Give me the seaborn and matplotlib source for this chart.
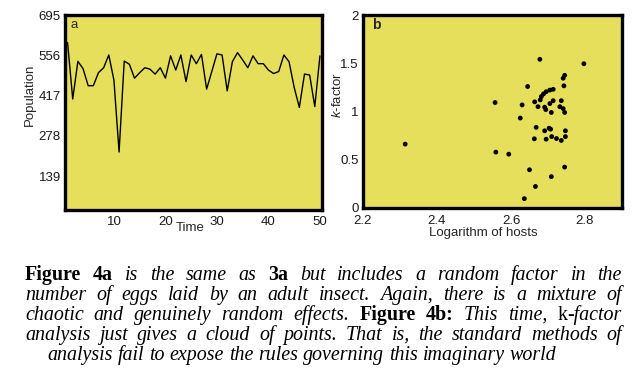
import numpy as np
import matplotlib
matplotlib.use("Agg")
import matplotlib.pyplot as plt
import seaborn as sns

sns.set_theme(style="white")
plt.rcParams["font.family"] = ["Liberation Sans", "DejaVu Sans"]
plt.rcParams["mathtext.fontset"] = "custom"
plt.rcParams["mathtext.it"] = "Liberation Sans:italic"
plt.rcParams["mathtext.rm"] = "Liberation Sans"

# painel a - população ao longo do tempo
time = np.arange(1, 51)
population = [600, 405, 535, 510, 451, 451, 496, 513, 557, 470,
              222, 536, 525, 477, 496, 513, 508, 491, 513, 477,
              554, 505, 557, 465, 557, 527, 559, 439, 500, 561,
              557, 433, 534, 565, 540, 513, 554, 527, 527, 505,
              493, 500, 557, 534, 445, 376, 491, 488, 379, 554]
pop_ticks = [139, 278, 417, 556, 695]
time_ticks = [10, 20, 30, 40, 50]

# painel b - k-factor contra log do número de hospedeiros
log_hosts = [2.314, 2.557, 2.559, 2.594, 2.625, 2.630, 2.645, 2.636, 2.650, 2.666,
             2.663, 2.668, 2.678, 2.664, 2.673, 2.679, 2.691, 2.691, 2.695, 2.703,
             2.707, 2.705, 2.709, 2.709, 2.710, 2.714, 2.723, 2.732, 2.736, 2.741,
             2.736, 2.743, 2.741, 2.745, 2.745, 2.747, 2.747, 2.745, 2.797, 2.682,
             2.688, 2.695, 2.705, 2.714, 2.694]
k_factor = [0.662, 1.093, 0.579, 0.558, 0.932, 1.068, 1.259, 0.097, 0.396, 0.223,
            0.717, 0.836, 1.541, 1.100, 1.050, 1.120, 1.045, 0.800, 0.713, 0.827,
            0.817, 1.082, 0.990, 0.325, 0.740, 1.112, 0.720, 1.050, 1.112, 1.030,
            0.700, 1.266, 1.345, 1.375, 0.990, 0.800, 0.740, 0.424, 1.495, 1.155,
            1.183, 1.205, 1.222, 1.230, 1.020]
k_ticks = [0, 0.5, 1, 1.5, 2]
k_labels = ["0", "0.5", "1", "1.5", "2"]
host_ticks = [2.2, 2.4, 2.6, 2.8]

# legenda (texto da figura)
caption = [
    [("Figure 4a", "bold"), ("is the same as", "italic"), ("3a", "bold"),
     ("but includes a random factor in the", "italic")],
    [("number of eggs laid by an adult insect. Again, there is a mixture of", "italic")],
    [("chaotic and genuinely random effects.", "italic"), ("Figure 4b:", "bold"),
     ("This time,", "italic"), ("k", "normal"), ("-factor", "italic")],
    [("analysis just gives a cloud of points. That is, the standard methods of", "italic")],
    [("analysis fail to expose the rules governing this imaginary world", "italic")],
]

W, H = 636, 375
yellow = "#e6df5c"
fig = plt.figure(figsize=(W / 100, H / 100), dpi=100)
fig.patch.set_facecolor("white")

ax_a = fig.add_axes([65 / W, 1 - 210 / H, 257 / W, 195 / H])
ax_b = fig.add_axes([363 / W, 1 - 208 / H, 259 / W, 193 / H])

sns.lineplot(x=time, y=population, ax=ax_a, color="black", linewidth=1.0)
sns.scatterplot(x=log_hosts, y=k_factor, ax=ax_b, color="black", s=12,
                edgecolor="none")

ax_a.set_xlim(0.5, 50.4)
ax_a.set_ylim(22, 695)
ax_a.set_xticks(time_ticks)
ax_a.set_yticks(pop_ticks)

ax_b.set_xlim(2.2, 2.9)
ax_b.set_ylim(0, 2)
ax_b.set_xticks(host_ticks)
ax_b.set_xticklabels([str(v) for v in host_ticks])
ax_b.set_yticks(k_ticks)
ax_b.set_yticklabels(k_labels)

for ax in (ax_a, ax_b):
    ax.set_facecolor(yellow)
    for sp in ax.spines.values():
        sp.set_color("black")
        sp.set_linewidth(2.4)
    ax.tick_params(length=0, pad=3, labelsize=9.5, colors="#1a1a1a")
    ax.grid(False)
ax_a.tick_params(axis="x", pad=4)
ax_b.tick_params(axis="x", pad=5)

ax_a.set_xlabel("Time", fontsize=9.5)
ax_a.xaxis.set_label_coords(0.486, -0.062)
ax_a.set_ylabel("Population", fontsize=9.5)
ax_a.yaxis.set_label_coords(-0.112, 0.59)
ax_b.set_xlabel("Logarithm of hosts", fontsize=9.5)
ax_b.xaxis.set_label_coords(0.463, -0.097)
ax_b.set_ylabel("$k$-factor", fontsize=9.5)
ax_b.yaxis.set_label_coords(-0.075, 0.585)

ax_a.text(0.022, 0.95, "a", transform=ax_a.transAxes, va="center", ha="left",
          fontsize=9.5)
ax_b.text(0.035, 0.948, "b", transform=ax_b.transAxes, va="center", ha="left",
          fontsize=10, fontweight="bold")

# legenda justificada, com palavras em negrito/itálico misturadas
serif = ["Liberation Serif", "DejaVu Serif"]
cap_size = 14.4
styles = {"bold": dict(fontweight="bold"), "italic": dict(fontstyle="italic"),
          "normal": dict()}
renderer = fig.canvas.get_renderer()


def make_words(segments):
    words = []
    for text, style in segments:
        for i, w in enumerate(text.split(" ")):
            if i == 0 and text.startswith("-") and words:
                words[-1].append((w, style))
            else:
                words.append([(w, style)])
    return words


def text_width(s, **kw):
    t = fig.text(0, 0, s, family=serif, fontsize=cap_size, **kw)
    w = t.get_window_extent(renderer).width
    t.remove()
    return w


def draw_line(segments, base_y, x0, x1, justify=True):
    words = make_words(segments)
    objs = []
    widths = []
    for word in words:
        parts = []
        wsum = 0
        for text, style in word:
            t = fig.text(0, 0, text, family=serif, fontsize=cap_size, va="baseline",
                         ha="left", color="black", **styles[style])
            w = t.get_window_extent(renderer).width
            parts.append((t, w))
            wsum += w
        objs.append(parts)
        widths.append(wsum)
    sp_w = text_width("a a", fontstyle="italic") - text_width("aa", fontstyle="italic")
    total = sum(widths)
    gap = (x1 - x0 - total) / (len(words) - 1) if justify else sp_w
    x = x0
    for parts, wsum in zip(objs, widths):
        px = x
        for t, w in parts:
            t.set_position((px / W, 1 - base_y / H))
            px += w
        x += wsum + gap


baselines = [280, 300, 320, 340, 360]
for i, (segs, by) in enumerate(zip(caption, baselines)):
    last = i == len(caption) - 1
    draw_line(segs, by, 47 if last else 25, 622, justify=not last)

fig.savefig("out.png", dpi=100, facecolor="white")
